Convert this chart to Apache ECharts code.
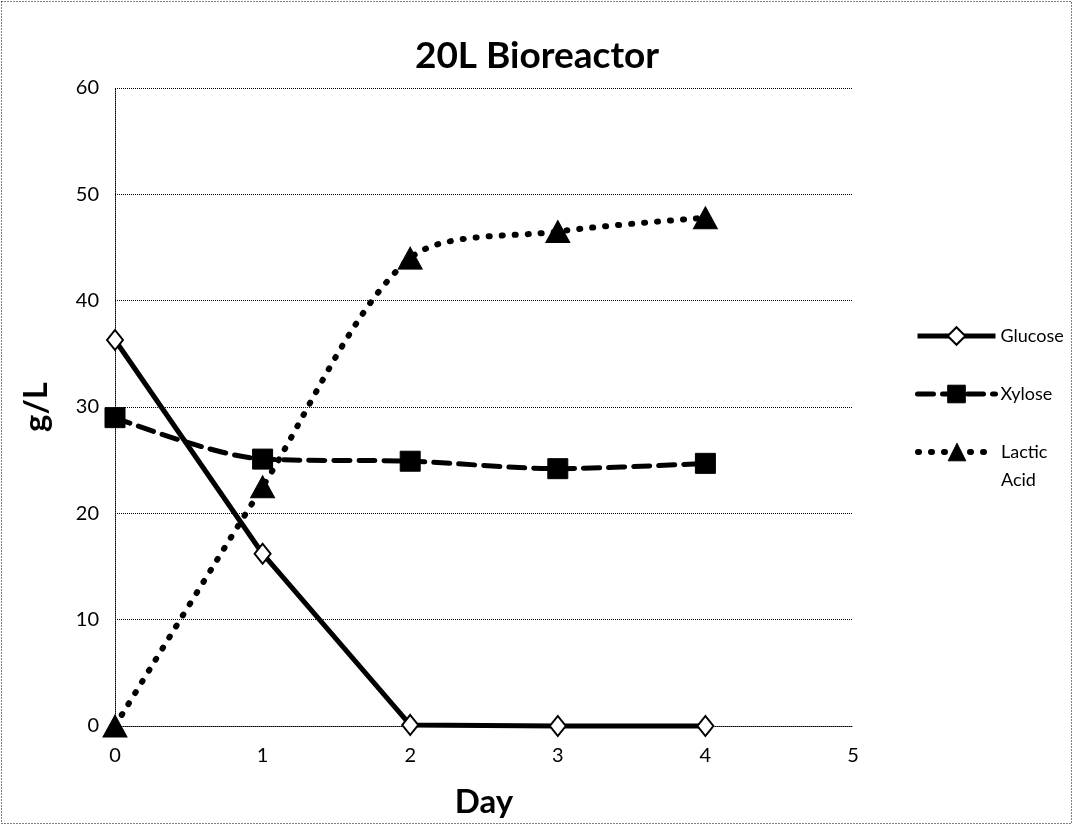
<!DOCTYPE html>
<html><head><meta charset="utf-8">
<script src="https://cdn.jsdelivr.net/npm/echarts@6/dist/echarts.min.js"></script>
<style>html,body{margin:0;padding:0;background:#fff}#c{width:1074px;height:827px}</style>
</head><body><div id="c"></div>
<script>
const days = [0, 1, 2, 3, 4];
const glucose = [36.3, 16.2, 0.1, 0.0, 0.0];
const xylose = [29.0, 25.1, 24.9, 24.2, 24.7];
const lactic = [0.0, 22.5, 44.0, 46.5, 47.8];
const xTicks = [0, 1, 2, 3, 4, 5];
const yTicks = [0, 10, 20, 30, 40, 50, 60];
const FONT = 'Lato';
const pair = arr => days.map((d, i) => [d, arr[i]]);
const legendBase = {
  orient: 'vertical', left: 910, itemGap: 30,
  itemWidth: 78, itemHeight: 22,
  lineStyle: { width: 'inherit' },
  itemStyle: { borderWidth: 'inherit' },
  textStyle: { fontFamily: FONT, fontSize: 18, color: '#000', lineHeight: 28 }
};
const chart = echarts.init(document.getElementById('c'));
chart.setOption({
  animation: false,
  backgroundColor: '#fff',
  textStyle: { fontFamily: FONT, color: '#000' },
  title: { text: '20L Bioreactor', left: 'center', top: 33,
    textStyle: { fontFamily: FONT, fontSize: 37, fontWeight: 'bold', color: '#000' } },
  grid: { left: 115, right: 221, top: 88, bottom: 101 },
  legend: [
    Object.assign({}, legendBase, { top: 317, data: ['Glucose', 'Xylose'] }),
    Object.assign({}, legendBase, { top: 405, data: ['Lactic Acid'],
      formatter: () => ' \nLactic\nAcid' })
  ],
  xAxis: {
    type: 'value', min: 0, max: 5, interval: 1,
    name: 'Day', nameLocation: 'middle', nameGap: 60,
    nameTextStyle: { fontFamily: FONT, fontSize: 33, fontWeight: 'bold', color: '#000' },
    axisLine: { lineStyle: { color: '#000', type: 'dotted', width: 1 } },
    axisTick: { show: false },
    splitLine: { show: false },
    axisLabel: { fontFamily: FONT, fontSize: 20, color: '#000', margin: 20,
      formatter: v => xTicks.includes(v) ? String(v) : '' }
  },
  yAxis: {
    type: 'value', min: 0, max: 60, interval: 10,
    name: 'g/L', nameLocation: 'middle', nameGap: 62,
    nameTextStyle: { fontFamily: FONT, fontSize: 33, fontWeight: 'bold', color: '#000' },
    axisLine: { show: true, lineStyle: { color: '#000', type: 'dotted', width: 1 } },
    axisTick: { show: false },
    splitLine: { show: true, lineStyle: { color: '#000', type: 'dotted', width: 1 } },
    axisLabel: { fontFamily: FONT, fontSize: 20, color: '#000', margin: 16,
      formatter: v => yTicks.includes(v) ? String(v) : '' }
  },
  series: [
    { name: 'Glucose', type: 'line', data: pair(glucose), z: 3, clip: false,
      symbol: 'diamond', symbolSize: [16, 20],
      lineStyle: { color: '#000', width: 5 },
      itemStyle: { color: '#fff', borderColor: '#000', borderWidth: 2 } },
    { name: 'Xylose', type: 'line', data: pair(xylose), smooth: 0.3, z: 4, clip: false,
      symbol: 'rect', symbolSize: 20,
      lineStyle: { color: '#000', width: 5, type: [16, 9], cap: 'round' },
      itemStyle: { color: '#000', borderColor: '#000', borderWidth: 1 } },
    { name: 'Lactic Acid', type: 'line', data: pair(lactic), smooth: 0.3, z: 5, clip: false,
      symbol: 'triangle', symbolSize: [24, 22],
      lineStyle: { color: '#000', width: 6, type: [1, 12], cap: 'round' },
      itemStyle: { color: '#000', borderColor: '#000', borderWidth: 1 } }
  ],
  graphic: [{
    type: 'rect', shape: { x: 1.5, y: 1.5, width: 1070, height: 822 }, silent: true,
    style: { fill: 'none', stroke: '#000', lineWidth: 1, lineDash: [1, 2] }
  }]
});
</script></body></html>
